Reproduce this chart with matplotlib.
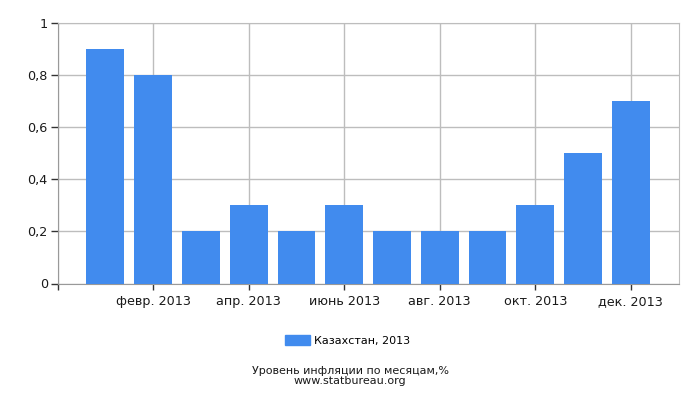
import matplotlib
matplotlib.use("Agg")
import matplotlib.pyplot as plt
import matplotlib.patches as mpatches
from matplotlib.ticker import FuncFormatter

months = ["янв. 2013", "февр. 2013", "март 2013", "апр. 2013", "май 2013", "июнь 2013",
          "июль 2013", "авг. 2013", "сент. 2013", "окт. 2013", "нояб. 2013", "дек. 2013"]
values = [0.9, 0.8, 0.2, 0.3, 0.2, 0.3, 0.2, 0.2, 0.2, 0.3, 0.5, 0.7]
series_name = "Казахстан, 2013"
title = "Уровень инфляции по месяцам,%"
source = "www.statbureau.org"
yticks = [0, 0.2, 0.4, 0.6, 0.8, 1.0]

bar_color = "#418bee"
grid_color = "#bdbdbd"
text_color = "#1a1a1a"

fig = plt.figure(figsize=(7, 4), dpi=100)
ax = fig.add_axes([57.5/700, 1-283.5/400, (678.7-57.5)/700, (283.5-22.5)/400])

x = list(range(len(values)))
ax.bar(x, values, width=0.79, color=bar_color, zorder=3)

ax.set_xlim(-1, 12)
ax.set_ylim(0, 1)
xt = [-1] + x[1::2]
ax.set_xticks(xt)
ax.set_xticklabels([""] + months[1::2], fontsize=9.2, color=text_color)
ax.set_yticks(yticks)
ax.yaxis.set_major_formatter(FuncFormatter(lambda v, p: ("%g" % v).replace(".", ",")))
for lbl in ax.get_yticklabels():
    lbl.set_fontsize(9.2)
    lbl.set_color(text_color)
ax.tick_params(axis="x", length=4, width=1, color="#333333", pad=4)
ax.tick_params(axis="y", length=5, width=1, color="#333333", pad=2)
ax.grid(True, color=grid_color, linewidth=1, zorder=0)
ax.set_axisbelow(True)
for s in ["top", "right"]:
    ax.spines[s].set_color(grid_color)
for s in ["left", "bottom"]:
    ax.spines[s].set_color("#999999")

handle = mpatches.Patch(color=bar_color, label=series_name)
fig.legend(handles=[handle], loc="center", bbox_to_anchor=(348/700, 1-340.5/400),
           frameon=False, fontsize=8, handlelength=2.2, handleheight=0.9, handletextpad=0.4)

fig.text(350/700, 1-371/400, title, ha="center", va="center", fontsize=8, color=text_color)
fig.text(350/700, 1-381.5/400, source, ha="center", va="center", fontsize=8, color=text_color)

fig.savefig("out.png", dpi=100)
